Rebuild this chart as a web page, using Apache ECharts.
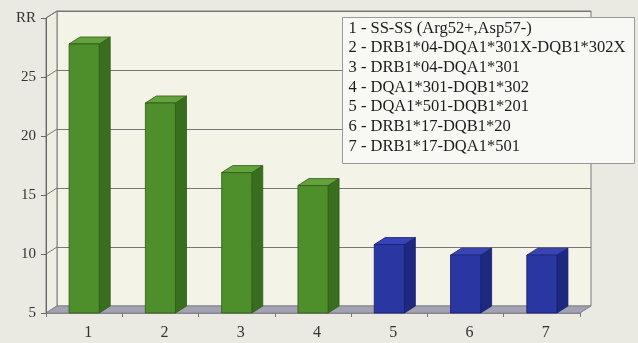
<!DOCTYPE html>
<html>
<head>
<meta charset="utf-8">
<script src="https://cdn.jsdelivr.net/npm/echarts/dist/echarts.min.js"></script>
<style>
  html, body { margin: 0; padding: 0; background: #ebeae2; }
  #chart { width: 638px; height: 343px; }
</style>
</head>
<body>
<div id="chart"></div>
<script>
// Relative risk (RR) per genotype group
const categories = ['1', '2', '3', '4', '5', '6', '7'];
const rrValues = [27.8, 22.8, 16.9, 15.8, 10.8, 9.9, 9.9];
const barGroup = [0, 0, 0, 0, 1, 1, 1]; // 0 = green, 1 = blue
const yMin = 5, yMax = 30, yStep = 5;
const legendLabels = [
  '1 - SS-SS (Arg52+,Asp57-)',
  '2 - DRB1*04-DQA1*301X-DQB1*302X',
  '3 - DRB1*04-DQA1*301',
  '4 - DQA1*301-DQB1*302',
  '5 - DQA1*501-DQB1*201',
  '6 - DRB1*17-DQB1*20',
  '7 - DRB1*17-DQA1*501'
];

// pseudo-3D depth offset of the chart box and the columns
const DX = 11, DY = -7;
const FONT = '"Liberation Serif", "DejaVu Serif", serif';

const palette = [
  { front: '#4f8f2b', side: '#3a6e1f', top: '#63a23d', edge: '#2f5a18' },
  { front: '#2a36a2', side: '#1e2880', top: '#3644b8', edge: '#18206a' }
];

const front = { left: 46, right: 58, top: 18, bottom: 30 };
const back = {
  left: front.left + DX, right: front.right - DX,
  top: front.top + DY, bottom: front.bottom - DY
};

const chart = echarts.init(document.getElementById('chart'), null, { renderer: 'canvas' });

// side wall, its grid lines and the floor, built from the front grid's scale
function renderRoom(params, api) {
  const cs = params.coordSys;
  const x0 = cs.x, x1 = cs.x + cs.width;
  const yB = api.coord([0, yMin])[1];
  const yT = api.coord([0, yMax])[1];
  const children = [];
  children.push({
    type: 'polygon',
    shape: { points: [[x0, yB], [x0 + DX, yB + DY], [x0 + DX, yT + DY], [x0, yT]] },
    style: { fill: '#efeee3', stroke: '#7a7a7a', lineWidth: 1 }
  });
  for (let v = yMin + yStep; v <= yMax; v += yStep) {
    const y = api.coord([0, v])[1];
    children.push({
      type: 'line',
      shape: { x1: x0, y1: y, x2: x0 + DX, y2: y + DY },
      style: { stroke: '#777', lineWidth: 1 }
    });
  }
  children.push({
    type: 'polygon',
    shape: { points: [[x0, yB], [x1, yB], [x1 + DX, yB + DY], [x0 + DX, yB + DY]] },
    style: { fill: '#a2a2b2', stroke: '#85858f', lineWidth: 1 }
  });
  return { type: 'group', children };
}

function renderColumn(params, api) {
  const i = api.value(0);
  const v = api.value(1);
  const topPt = api.coord([i, v]);
  const basePt = api.coord([i, yMin]);
  const band = api.size([1, 0])[0];
  const w = band * 0.395;
  const xl = topPt[0] - w / 2, xr = topPt[0] + w / 2;
  const yt = topPt[1], yb = basePt[1];
  const c = palette[barGroup[i]];
  return {
    type: 'group',
    children: [
      {
        type: 'polygon',
        shape: { points: [[xr, yt], [xr + DX, yt + DY], [xr + DX, yb + DY], [xr, yb]] },
        style: { fill: c.side, stroke: c.edge, lineWidth: 0.8 }
      },
      {
        type: 'polygon',
        shape: { points: [[xl, yt], [xl + DX, yt + DY], [xr + DX, yt + DY], [xr, yt]] },
        style: { fill: c.top, stroke: c.edge, lineWidth: 0.8 }
      },
      {
        type: 'rect',
        shape: { x: xl, y: yt, width: w, height: yb - yt },
        style: { fill: c.front, stroke: c.edge, lineWidth: 0.8 }
      }
    ]
  };
}

const option = {
  backgroundColor: '#ebeae2',
  animation: false,
  grid: [
    { left: front.left, right: front.right, top: front.top, bottom: front.bottom, containLabel: false },
    {
      left: back.left, right: back.right, top: back.top, bottom: back.bottom,
      show: true, backgroundColor: '#f4f3e7', borderColor: '#7a7a7a', borderWidth: 1, z: 0
    }
  ],
  xAxis: [
    {
      type: 'category', gridIndex: 0, data: categories, boundaryGap: true,
      axisLine: { show: true, lineStyle: { color: '#85858f', width: 1 } },
      axisTick: { show: true, length: 4, lineStyle: { color: '#777' } },
      axisLabel: {
        color: '#333', fontFamily: FONT, fontSize: 16, margin: 12,
        padding: [0, 0, 0, 8]
      },
      z: 3
    },
    {
      type: 'category', gridIndex: 1, data: categories,
      show: false
    }
  ],
  yAxis: [
    {
      type: 'value', gridIndex: 0, min: yMin, max: yMax, interval: yStep,
      axisLine: { show: true, lineStyle: { color: '#666', width: 1 } },
      axisTick: { show: true, length: 5, lineStyle: { color: '#666' } },
      axisLabel: {
        color: '#333', fontFamily: FONT, fontSize: 15, margin: 10,
        formatter: v => (v === yMax ? 'RR' : String(v))
      },
      splitLine: { show: false },
      z: 3
    },
    {
      type: 'value', gridIndex: 1, min: yMin, max: yMax, interval: yStep,
      axisLine: { show: false }, axisTick: { show: false }, axisLabel: { show: false },
      splitLine: { show: true, lineStyle: { color: '#777', width: 1 } }
    }
  ],
  series: [
    {
      type: 'custom', xAxisIndex: 0, yAxisIndex: 0, z: 1,
      data: [[0, yMin]],
      encode: { x: 0, y: 1 },
      renderItem: renderRoom,
      silent: true
    },
    {
      type: 'custom', xAxisIndex: 0, yAxisIndex: 0, z: 4,
      data: rrValues.map((v, i) => [i, v]),
      encode: { x: 0, y: 1 },
      renderItem: renderColumn
    }
  ],
  graphic: {
    zlevel: 1,
    elements: [
      {
        type: 'group', left: 342, top: 17, z: 100,
        children: [
          {
            type: 'rect', z: 100,
            shape: { x: 0, y: 0, width: 292, height: 146 },
            style: { fill: '#f8f8f5', stroke: '#9a9a9a', lineWidth: 1 }
          },
          {
            type: 'text', x: 6, y: 1, z: 101,
            style: {
              text: legendLabels.join('\n'),
              font: '16.5px ' + FONT,
              lineHeight: 19.7,
              fill: '#1c1c1c'
            }
          }
        ]
      }
    ]
  }
};

chart.setOption(option);
</script>
</body>
</html>
